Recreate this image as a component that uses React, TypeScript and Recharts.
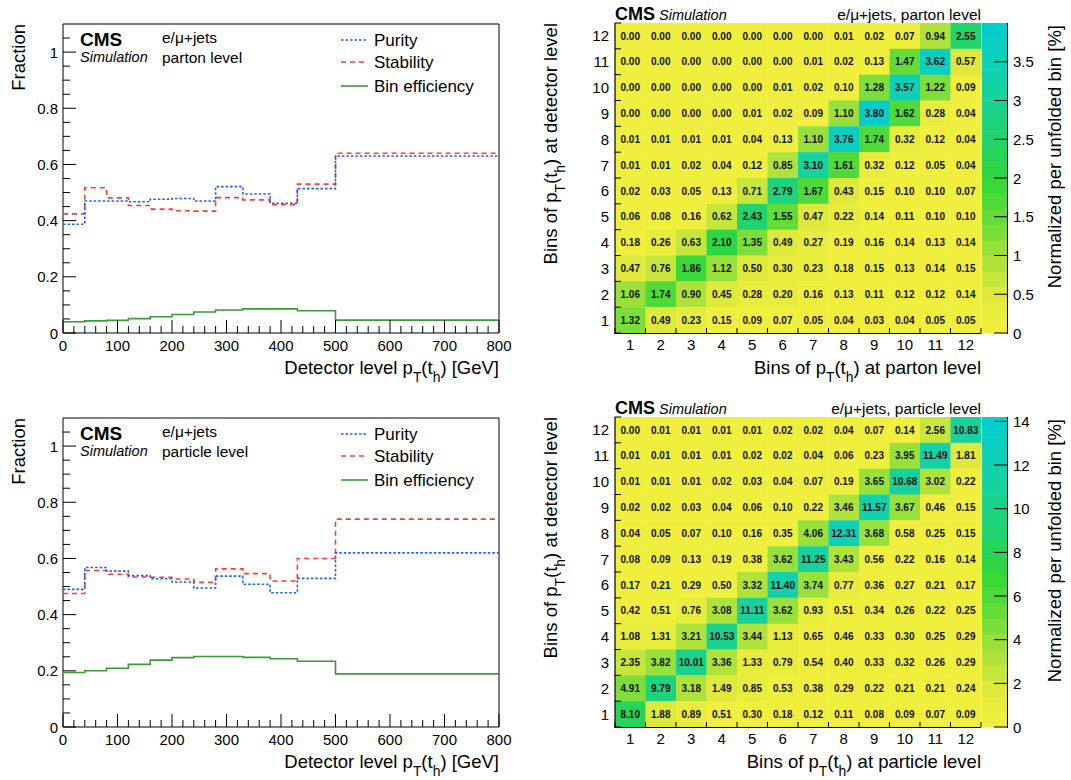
import React from "react";
import { Line, LineChart, ReferenceArea, Scatter, ScatterChart, XAxis, YAxis } from "recharts";

const FONT = "'Liberation Sans', Arial, Helvetica, sans-serif";

// pT(t_h) binning in GeV, 12 bins
const binEdges = [0, 40, 80, 120, 160, 200, 240, 280, 330, 380, 430, 500, 800];

const partonPurity = [0.387, 0.47, 0.47, 0.467, 0.476, 0.479, 0.47, 0.521, 0.495, 0.462, 0.514, 0.63];
const partonStability = [0.424, 0.517, 0.481, 0.454, 0.441, 0.435, 0.434, 0.482, 0.474, 0.457, 0.53, 0.64];
const partonEfficiency = [0.04, 0.043, 0.045, 0.051, 0.058, 0.066, 0.075, 0.082, 0.086, 0.086, 0.079, 0.046];

const particlePurity = [0.49, 0.568, 0.555, 0.539, 0.528, 0.516, 0.495, 0.537, 0.508, 0.478, 0.529, 0.62];
const particleStability = [0.475, 0.557, 0.544, 0.534, 0.533, 0.527, 0.515, 0.563, 0.546, 0.52, 0.6, 0.74];
const particleEfficiency = [0.194, 0.2, 0.209, 0.223, 0.238, 0.247, 0.251, 0.251, 0.248, 0.243, 0.234, 0.189];

// migration matrices, first row = detector bin 12, last row = detector bin 1
const partonMatrix = [
  [0.0, 0.0, 0.0, 0.0, 0.0, 0.0, 0.0, 0.01, 0.02, 0.07, 0.94, 2.55],
  [0.0, 0.0, 0.0, 0.0, 0.0, 0.0, 0.01, 0.02, 0.13, 1.47, 3.62, 0.57],
  [0.0, 0.0, 0.0, 0.0, 0.0, 0.01, 0.02, 0.1, 1.28, 3.57, 1.22, 0.09],
  [0.0, 0.0, 0.0, 0.0, 0.01, 0.02, 0.09, 1.1, 3.8, 1.62, 0.28, 0.04],
  [0.01, 0.01, 0.01, 0.01, 0.04, 0.13, 1.1, 3.76, 1.74, 0.32, 0.12, 0.04],
  [0.01, 0.01, 0.02, 0.04, 0.12, 0.85, 3.1, 1.61, 0.32, 0.12, 0.05, 0.04],
  [0.02, 0.03, 0.05, 0.13, 0.71, 2.79, 1.67, 0.43, 0.15, 0.1, 0.1, 0.07],
  [0.06, 0.08, 0.16, 0.62, 2.43, 1.55, 0.47, 0.22, 0.14, 0.11, 0.1, 0.1],
  [0.18, 0.26, 0.63, 2.1, 1.35, 0.49, 0.27, 0.19, 0.16, 0.14, 0.13, 0.14],
  [0.47, 0.76, 1.86, 1.12, 0.5, 0.3, 0.23, 0.18, 0.15, 0.13, 0.14, 0.15],
  [1.06, 1.74, 0.9, 0.45, 0.28, 0.2, 0.16, 0.13, 0.11, 0.12, 0.12, 0.14],
  [1.32, 0.49, 0.23, 0.15, 0.09, 0.07, 0.05, 0.04, 0.03, 0.04, 0.05, 0.05],
];

const particleMatrix = [
  [0.0, 0.01, 0.01, 0.01, 0.01, 0.02, 0.02, 0.04, 0.07, 0.14, 2.56, 10.83],
  [0.01, 0.01, 0.01, 0.01, 0.02, 0.02, 0.04, 0.06, 0.23, 3.95, 11.49, 1.81],
  [0.01, 0.01, 0.01, 0.02, 0.03, 0.04, 0.07, 0.19, 3.65, 10.68, 3.02, 0.22],
  [0.02, 0.02, 0.03, 0.04, 0.06, 0.1, 0.22, 3.46, 11.57, 3.67, 0.46, 0.15],
  [0.04, 0.05, 0.07, 0.1, 0.16, 0.35, 4.06, 12.31, 3.68, 0.58, 0.25, 0.15],
  [0.08, 0.09, 0.13, 0.19, 0.38, 3.62, 11.25, 3.43, 0.56, 0.22, 0.16, 0.14],
  [0.17, 0.21, 0.29, 0.5, 3.32, 11.4, 3.74, 0.77, 0.36, 0.27, 0.21, 0.17],
  [0.42, 0.51, 0.76, 3.08, 11.11, 3.62, 0.93, 0.51, 0.34, 0.26, 0.22, 0.25],
  [1.08, 1.31, 3.21, 10.53, 3.44, 1.13, 0.65, 0.46, 0.33, 0.3, 0.25, 0.29],
  [2.35, 3.82, 10.01, 3.36, 1.33, 0.79, 0.54, 0.4, 0.33, 0.32, 0.26, 0.29],
  [4.91, 9.79, 3.18, 1.49, 0.85, 0.53, 0.38, 0.29, 0.22, 0.21, 0.21, 0.24],
  [8.1, 1.88, 0.89, 0.51, 0.3, 0.18, 0.12, 0.11, 0.08, 0.09, 0.07, 0.09],
];

const binLabels = ["1", "2", "3", "4", "5", "6", "7", "8", "9", "10", "11", "12"];
const fractionLabels = ["0", "0.2", "0.4", "0.6", "0.8", "1"];
const ptLabels = ["0", "100", "200", "300", "400", "500", "600", "700", "800"];
const partonScaleLabels = ["0", "0.5", "1", "1.5", "2", "2.5", "3", "3.5"];
const particleScaleLabels = ["0", "2", "4", "6", "8", "10", "12", "14"];
const partonScaleMax = 4;
const particleScaleMax = 14.2;

const PURITY = "#1f5cff";
const STABILITY = "#ff3b30";
const EFFICIENCY = "#3a9a3a";

const ROW_H = 394;

// axis tick positions: majors carry labels, minors are plain marks
const ptTicks: number[] = [];
for (let v = 0; v <= 800; v += 20) ptTicks.push(v);
const fracTicks: number[] = [];
for (let i = 0; i <= 21; i++) fracTicks.push(Math.round(i * 5) / 100);
const binTicks: number[] = [];
for (let i = 0; i <= binLabels.length * 2; i++) binTicks.push(0.5 + i / 2);

// colour palette, yellow -> green -> cyan, drawn in discrete contour levels
const paletteStops: [number, number, number][] = [
  [245, 240, 62],
  [222, 233, 60],
  [165, 226, 58],
  [100, 220, 56],
  [45, 215, 55],
  [34, 212, 110],
  [24, 210, 150],
  [14, 208, 185],
  [0, 206, 208],
];
const LEVELS = 20;

function levelColor(level: number) {
  const t = ((level + 0.5) / LEVELS) * (paletteStops.length - 1);
  const i = Math.min(paletteStops.length - 2, Math.floor(t));
  const f = t - i;
  const a = paletteStops[i];
  const b = paletteStops[i + 1];
  const c = a.map((v, k) => Math.round(v + (b[k] - v) * f));
  return `rgb(${c[0]},${c[1]},${c[2]})`;
}

function valueColor(v: number, max: number) {
  const level = Math.max(0, Math.min(LEVELS - 1, Math.floor((v / max) * LEVELS)));
  return levelColor(level);
}

function PtSub({ size }: { size: number }) {
  return (
    <>
      <tspan>p</tspan>
      <tspan fontSize={size * 0.75} dy={size * 0.45}>T</tspan>
      <tspan dy={-size * 0.45}>(t</tspan>
      <tspan fontSize={size * 0.75} dy={size * 0.45}>h</tspan>
      <tspan dy={-size * 0.45}>)</tspan>
    </>
  );
}

const renderPtTick = (p: any) => {
  const v = p.payload.value;
  const major = v % 100 === 0;
  return (
    <g>
      <line x1={p.x} x2={p.x} y1={p.y} y2={p.y - (major ? 13 : 7)} stroke="#000" />
      {major && (
        <text x={p.x} y={p.y + 18} textAnchor="middle" fontSize={15} fontFamily={FONT} fill="#000">
          {ptLabels[v / 100]}
        </text>
      )}
    </g>
  );
};

const renderFracTick = (p: any) => {
  const v = p.payload.value;
  const k = Math.round(v * 5);
  const major = Math.abs(v * 5 - k) < 1e-6;
  return (
    <g>
      <line x1={p.x} x2={p.x + (major ? 13 : 7)} y1={p.y} y2={p.y} stroke="#000" />
      {major && (
        <text x={p.x - 5} y={p.y + 5.5} textAnchor="end" fontSize={15} fontFamily={FONT} fill="#000">
          {fractionLabels[k]}
        </text>
      )}
    </g>
  );
};

function StepPanel({
  top,
  purity,
  stability,
  efficiency,
  level,
}: {
  top: number;
  purity: number[];
  stability: number[];
  efficiency: number[];
  level: string;
}) {
  const data = binEdges.map((edge, i) => {
    const b = Math.min(i, purity.length - 1);
    return { pt: edge, purity: purity[b], stability: stability[b], efficiency: efficiency[b] };
  });
  const legend = [
    { label: "Purity", color: PURITY, dash: "2.5 2", y: 40 },
    { label: "Stability", color: STABILITY, dash: "5 4", y: 62 },
    { label: "Bin efficiency", color: EFFICIENCY, dash: undefined, y: 86 },
  ];
  return (
    <div style={{ position: "absolute", left: 0, top, width: 520, height: ROW_H }}>
      <LineChart width={520} height={ROW_H} data={data} margin={{ top: 24, right: 21, bottom: 60, left: 62 }}>
        <XAxis
          dataKey="pt"
          type="number"
          domain={[0, 800]}
          ticks={ptTicks}
          interval={0}
          height={1}
          tickSize={0}
          tickMargin={0}
          tickLine={false}
          axisLine={false}
          tick={renderPtTick}
        />
        <YAxis
          type="number"
          domain={[0, 1.1]}
          ticks={fracTicks}
          interval={0}
          width={1}
          tickSize={0}
          tickMargin={0}
          tickLine={false}
          axisLine={false}
          tick={renderFracTick}
        />
        <ReferenceArea x1={0} x2={800} y1={0} y2={1.1} fill="none" stroke="#000" strokeWidth={1} />
        <Line type="stepAfter" dataKey="efficiency" stroke={EFFICIENCY} strokeWidth={1.6} dot={false} isAnimationActive={false} />
        <Line type="stepAfter" dataKey="stability" stroke={STABILITY} strokeWidth={1.6} strokeDasharray="5 4" dot={false} isAnimationActive={false} />
        <Line type="stepAfter" dataKey="purity" stroke={PURITY} strokeWidth={1.6} strokeDasharray="2.5 2" dot={false} isAnimationActive={false} />
      </LineChart>
      <svg width={520} height={ROW_H} style={{ position: "absolute", left: 0, top: 0, pointerEvents: "none" }} fontFamily={FONT}>
        <text x={80} y={46} fontSize={19} fontWeight="bold">CMS</text>
        <text x={80} y={62} fontSize={14.5} fontStyle="italic">Simulation</text>
        <text x={162} y={43} fontSize={15.5}>e/μ+jets</text>
        <text x={162} y={63} fontSize={15.5}>{level}</text>
        {legend.map((l) => (
          <g key={l.label}>
            <line x1={341} x2={368} y1={l.y} y2={l.y} stroke={l.color} strokeWidth={1.6} strokeDasharray={l.dash} />
            <text x={374} y={l.y + 6} fontSize={17}>{l.label}</text>
          </g>
        ))}
        <text x={25} y={24} fontSize={18.5} textAnchor="end" transform="rotate(-90 25 24)">Fraction</text>
        <text x={499} y={374} fontSize={18.5} textAnchor="end">
          Detector level <PtSub size={18.5} /> [GeV]
        </text>
      </svg>
    </div>
  );
}

// plot area of the matrix: 366 x 310 px for 12 x 12 bins
const PLOT_W = 366;
const PLOT_H = 310;
const CELL_W = PLOT_W / 12;
const CELL_H = PLOT_H / 12;
const BAR_W = 25;

function makeCellShape(max: number) {
  return (p: any) => {
    const v = p.payload.value as number;
    return (
      <g>
        <rect
          x={p.cx - CELL_W / 2}
          y={p.cy - CELL_H / 2}
          width={CELL_W + 0.4}
          height={CELL_H + 0.4}
          fill={valueColor(v, max)}
        />
        <text x={p.cx} y={p.cy + 3.6} textAnchor="middle" fontSize={10} fontWeight="bold" fontFamily={FONT} fill="#111">
          {v.toFixed(2)}
        </text>
      </g>
    );
  };
}

const renderBand = (p: any) => (
  <rect
    x={p.cx - BAR_W / 2}
    y={p.cy - PLOT_H / LEVELS / 2}
    width={BAR_W}
    height={PLOT_H / LEVELS + 0.4}
    fill={p.payload.color}
  />
);

const renderBinXTick = (p: any) => {
  const v = p.payload.value;
  if (Number.isInteger(v)) {
    return (
      <text x={p.x} y={p.y + 17} textAnchor="middle" fontSize={15} fontFamily={FONT} fill="#000">
        {binLabels[v - 1]}
      </text>
    );
  }
  return <line x1={p.x} x2={p.x} y1={p.y} y2={p.y - 5} stroke="#000" />;
};

const renderBinYTick = (p: any) => {
  const v = p.payload.value;
  if (Number.isInteger(v)) {
    return (
      <text x={p.x - 6} y={p.y + 5.5} textAnchor="end" fontSize={15} fontFamily={FONT} fill="#000">
        {binLabels[v - 1]}
      </text>
    );
  }
  return <line x1={p.x} x2={p.x + 6} y1={p.y} y2={p.y} stroke="#000" />;
};

function MatrixPanel({
  top,
  matrix,
  scaleMax,
  scaleLabels,
  level,
}: {
  top: number;
  matrix: number[][];
  scaleMax: number;
  scaleLabels: string[];
  level: string;
}) {
  const cells: { col: number; row: number; value: number }[] = [];
  matrix.forEach((rowValues, r) =>
    rowValues.forEach((value, c) => cells.push({ col: c + 1, row: matrix.length - r, value }))
  );
  const scaleTicks = scaleLabels.map(Number);
  // colour-scale contour bands, placed at their mid value
  const bands = Array.from({ length: LEVELS }, (_, i) => ({
    pos: 0.5,
    mid: (scaleMax * (i + 0.5)) / LEVELS,
    color: levelColor(i),
  }));
  const renderScaleTick = (p: any) => (
    <g>
      <line x1={p.x - 13} x2={p.x} y1={p.y} y2={p.y} stroke="#000" />
      <text x={p.x + 6} y={p.y + 5.5} fontSize={15} fontFamily={FONT} fill="#000">
        {scaleLabels[scaleTicks.indexOf(p.payload.value)]}
      </text>
    </g>
  );
  return (
    <div style={{ position: "absolute", left: 520, top, width: 551, height: ROW_H }}>
      <ScatterChart width={551} height={ROW_H} margin={{ top: 23, right: 90, bottom: 60, left: 94 }}>
        <XAxis
          dataKey="col"
          type="number"
          domain={[0.5, 12.5]}
          ticks={binTicks}
          interval={0}
          height={1}
          tickSize={0}
          tickMargin={0}
          tickLine={false}
          axisLine={false}
          tick={renderBinXTick}
        />
        <YAxis
          dataKey="row"
          type="number"
          domain={[0.5, 12.5]}
          ticks={binTicks}
          interval={0}
          width={1}
          tickSize={0}
          tickMargin={0}
          tickLine={false}
          axisLine={false}
          tick={renderBinYTick}
        />
        <Scatter data={cells} shape={makeCellShape(scaleMax)} isAnimationActive={false} />
      </ScatterChart>
      <div style={{ position: "absolute", left: 440, top: 0 }}>
        <ScatterChart width={111} height={ROW_H} margin={{ top: 23, right: 63, bottom: 61, left: 22 }}>
          <XAxis dataKey="pos" type="number" domain={[0, 1]} hide />
          <YAxis
            dataKey="mid"
            orientation="right"
            type="number"
            domain={[0, scaleMax]}
            ticks={scaleTicks}
            interval={0}
            width={1}
            tickSize={0}
            tickMargin={0}
            tickLine={false}
            axisLine={false}
            tick={renderScaleTick}
          />
          <Scatter data={bands} shape={renderBand} isAnimationActive={false} />
        </ScatterChart>
      </div>
      <svg width={551} height={ROW_H} style={{ position: "absolute", left: 0, top: 0, pointerEvents: "none" }} fontFamily={FONT}>
        {/* axis lines drawn over the cells */}
        <line x1={95} x2={95} y1={23} y2={334} stroke="#000" strokeWidth={1.2} />
        <line x1={94.5} x2={461} y1={333.5} y2={333.5} stroke="#000" strokeWidth={1.2} />
        <line x1={487.5} x2={487.5} y1={23} y2={334} stroke="#000" strokeWidth={1} />
        <text x={95} y={20} fontSize={18} fontWeight="bold">CMS</text>
        <text x={139} y={20} fontSize={14.5} fontStyle="italic">Simulation</text>
        <text x={461} y={20} fontSize={15.5} textAnchor="end">e/μ+jets, {level}</text>
        <text x={461} y={374} fontSize={18.5} textAnchor="end">
          Bins of <PtSub size={18.5} /> at {level}
        </text>
        <text x={37} y={23} fontSize={18.5} textAnchor="end" transform="rotate(-90 37 23)">
          Bins of <PtSub size={18.5} /> at detector level
        </text>
        <text x={541} y={25} fontSize={18.5} textAnchor="end" transform="rotate(-90 541 25)">
          Normalized per unfolded bin [%]
        </text>
      </svg>
    </div>
  );
}

export default function App() {
  return (
    <div
      style={{
        position: "absolute",
        left: 0,
        top: 0,
        width: 1071,
        height: 780,
        background: "#fff",
        fontFamily: FONT,
        overflow: "hidden",
      }}
    >
      <StepPanel top={0} purity={partonPurity} stability={partonStability} efficiency={partonEfficiency} level="parton level" />
      <StepPanel top={ROW_H} purity={particlePurity} stability={particleStability} efficiency={particleEfficiency} level="particle level" />
      <MatrixPanel top={0} matrix={partonMatrix} scaleMax={partonScaleMax} scaleLabels={partonScaleLabels} level="parton level" />
      <MatrixPanel top={ROW_H} matrix={particleMatrix} scaleMax={particleScaleMax} scaleLabels={particleScaleLabels} level="particle level" />
    </div>
  );
}
